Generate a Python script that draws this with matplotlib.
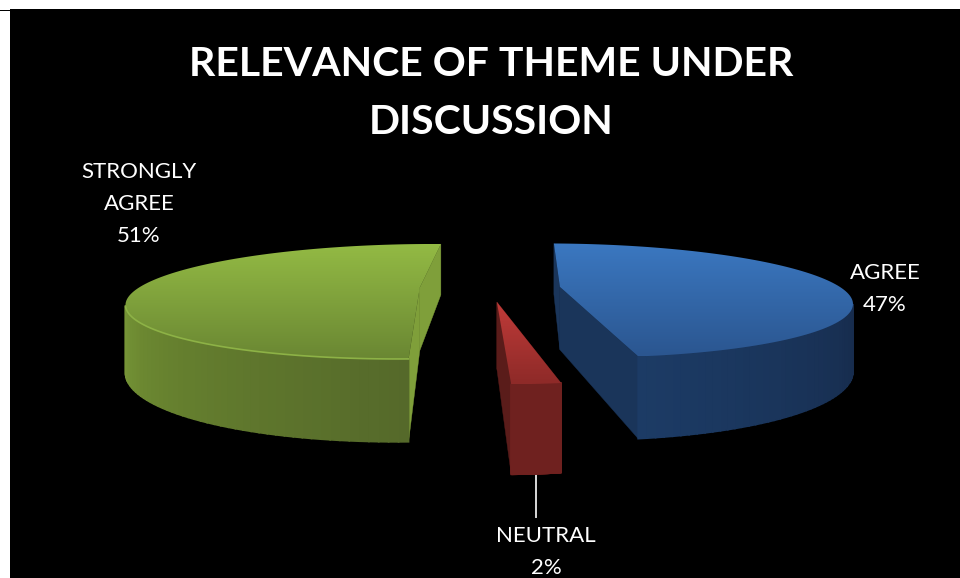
import numpy as np
import matplotlib
matplotlib.use('Agg')
import matplotlib.pyplot as plt
from matplotlib.patches import Polygon, PathPatch, Rectangle
from matplotlib.path import Path
from matplotlib.colors import to_rgb

title = "RELEVANCE OF THEME UNDER\nDISCUSSION"
labels = ["AGREE", "NEUTRAL", "STRONGLY\nAGREE"]
values = [47, 2, 51]

# look of each slice, same order as values
top_cols = [("#3b78c1", "#2b5690"), ("#c03b39", "#8e2a28"), ("#93ba44", "#6a8733")]
rim_stops = [([0, 90, 170], ["#192f50", "#152745", "#1c3b65"]),
             ([170, 180], ["#6f211f", "#6f211f"]),
             ([178, 225, 280, 362], ["#55692a", "#67822f", "#86a93e", "#86a93e"])]
cut_cols = ["#1a355a", "#5a1c1a", "#7f9f3a"]
label_pos = [(885, 289), (546, 552.5), (139, 204.5)]

start = 1.9
explode = 0.25
k = 0.24
rx, ry = 281, 54.2
cx, cy = 490, 287.7
depth = 63


def project(u, v, drop=0.0):
    s = 1 / (1 + k * v)
    return cx + rx * u * s, cy - ry * v * s + depth * s * drop


def unit(t):
    return np.sin(np.radians(t)), np.cos(np.radians(t))


def gradient(ax, poly, c1, c2):
    poly = np.array(poly)
    y0, y1 = poly[:, 1].min(), poly[:, 1].max()
    grad = np.linspace(0, 1, 100).reshape(-1, 1, 1)
    img = (1 - grad) * np.array(to_rgb(c1)) + grad * np.array(to_rgb(c2))
    im = ax.imshow(img, extent=(0, 960, y1, y0), aspect='auto', zorder=3, interpolation='bilinear')
    patch = PathPatch(Path(np.vstack([poly, poly[0]]), closed=True), transform=ax.transData, fc='none', ec='none')
    ax.add_patch(patch)
    im.set_clip_path(patch)


fig = plt.figure(figsize=(9.6, 5.78), dpi=100, facecolor='white')
ax = fig.add_axes([0, 0, 1, 1])
ax.axis('off')
ax.add_patch(Rectangle((10, 9), 950, 569, fc='black', ec='none', zorder=0))
ax.add_patch(Rectangle((0, 9.5), 10, 1.5, fc='black', ec='none', zorder=0))

fracs = np.array(values) / sum(values) * 360
t0 = start
for i, f in enumerate(fracs):
    t1 = t0 + f
    mid = (t0 + t1) / 2
    mu, mv = unit(mid)
    c_u, c_v = explode * mu, explode * mv

    ts = np.linspace(t0, t1, 120)
    su, sv = unit(ts)
    us, vs = c_u + su, c_v + sv
    xs, ys = project(us, vs)

    # flat cut faces
    for j in (0, -1):
        face = [project(c_u, c_v), project(us[j], vs[j]), project(us[j], vs[j], 1), project(c_u, c_v, 1)]
        ax.add_patch(Polygon(face, fc=cut_cols[i], ec=cut_cols[i], lw=0.3, zorder=2))

    # outer rim, coloured along the angle, only where it runs right to left on screen
    stops, cols = rim_stops[i]
    rgb = np.array([to_rgb(c) for c in cols])
    for n in range(len(ts) - 1):
        if xs[n + 1] >= xs[n]:
            continue
        quad = [project(us[n], vs[n]), project(us[n + 1], vs[n + 1]),
                project(us[n + 1], vs[n + 1], 1), project(us[n], vs[n], 1)]
        col = [np.interp(ts[n], stops, rgb[:, c]) for c in range(3)]
        ax.add_patch(Polygon(quad, fc=col, ec=col, lw=1.2, zorder=2))

    # top surface
    top = [project(c_u, c_v)] + list(zip(xs, ys))
    gradient(ax, top, *top_cols[i])

    # light bevel on the green edge
    if i == 2:
        front = np.append(np.diff(xs) < 0, False)
        ax.plot(xs[front], ys[front], color="#8db246", lw=1.2, zorder=4)

    ax.text(label_pos[i][0], label_pos[i][1], "%s\n%d%%" % (labels[i], values[i]), color='white',
            family='Lato', fontsize=16, ha='center', va='center', linespacing=1.75, zorder=5)

    if i == 1:
        lx, ly = project(c_u + np.sin(np.radians(mid)), c_v + np.cos(np.radians(mid)), 1)
        ax.plot([lx, lx], [ly, 517], color='#d9d9d9', lw=1.4, zorder=1)
    t0 = t1

ax.text(491, 93, title, color='white', family='Lato', fontweight='bold', fontsize=29.5,
        ha='center', va='center', linespacing=1.7, zorder=5)

ax.set_xlim(0, 960)
ax.set_ylim(578, 0)
fig.savefig('out.png', dpi=100, facecolor='white')
